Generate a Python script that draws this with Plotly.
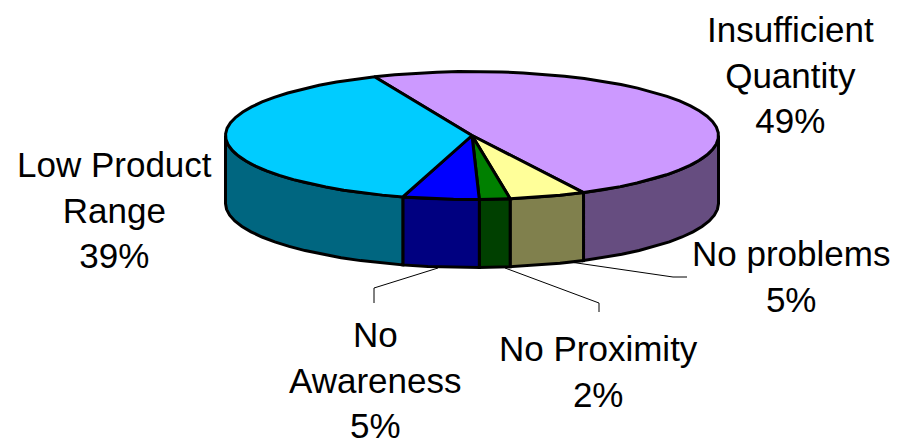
import numpy as np
import plotly.graph_objects as go

# Survey results, clockwise from the top of the pie
categories = ["Insufficient<br>Quantity", "No problems", "No Proximity", "No<br>Awareness", "Low Product<br>Range"]
values = [49, 5, 2, 5, 39]
top_colors = ["#CC99FF", "#FFFF99", "#008000", "#0000FF", "#00CCFF"]
side_colors = ["#664D80", "#80804D", "#004000", "#000080", "#006680"]

# Pixel geometry of the tilted disc
CX, CY = 472, 135.5
RX, RY = 246.5, 64
DEPTH = 68
START_DEG = 113.3
STEP_DEG = 5
OUTLINE = 3

# Centre of each label block, in the same order as the categories
label_pos = [(790, 74.5), (791, 276), (598, 371), (375, 380), (114.5, 209.5)]

# Leader lines running from the rim out to their labels
leaders = [
    [(570, 262), (673, 277), (687, 277)],
    [(505, 268), (599, 303), (599, 312)],
    [(438, 268), (374, 288), (374, 303)],
]


def arc(t0, t1):
    """Parametric angles from t0 to t1 (degrees), sampled coarsely with exact ends."""
    n = max(int(abs(t1 - t0) / STEP_DEG), 1)
    return np.radians(np.linspace(t0, t1, n + 1))


def rim(t, dy=0.0):
    return CX + RX * np.cos(t), CY - RY * np.sin(t) + dy


fig = go.Figure()


def polygon(xs, ys, color):
    fig.add_trace(go.Scatter(
        x=xs, y=ys, mode="lines", fill="toself", fillcolor=color,
        line=dict(color="black", width=OUTLINE), hoverinfo="skip", showlegend=False,
    ))


for path in leaders:
    fig.add_trace(go.Scatter(
        x=[p[0] for p in path], y=[p[1] for p in path], mode="lines",
        line=dict(color="black", width=1), hoverinfo="skip", showlegend=False,
    ))

# Slice spans, going clockwise from the start angle
spans = []
angle = START_DEG
for v in values:
    sweep = 360 * v / sum(values)
    spans.append((angle, angle - sweep))
    angle -= sweep

# Outer wall: only the part of each slice on the near half of the rim is visible
for (t0, t1), color in zip(spans, side_colors):
    lo, hi = max(t1, -180), min(t0, 0)
    if hi <= lo:
        continue
    t = arc(hi, lo)
    x, y = rim(t)
    xb, yb = rim(t[::-1], DEPTH)
    polygon(np.r_[x, xb, x[0]], np.r_[y, yb, y[0]], color)

# Top face
for (t0, t1), color in zip(spans, top_colors):
    x, y = rim(arc(t0, t1))
    polygon(np.r_[CX, x, CX], np.r_[CY, y, CY], color)

for name, v, (lx, ly) in zip(categories, values, label_pos):
    fig.add_annotation(
        x=lx, y=ly, xref="x", yref="y", text=f"{name}<br>{v}%", showarrow=False,
        xanchor="center", yanchor="middle", align="center",
        font=dict(family="Liberation Sans, Arial, sans-serif", size=35, color="black"),
    )

fig.update_layout(
    width=898, height=445, margin=dict(l=0, r=0, t=0, b=0),
    paper_bgcolor="white", plot_bgcolor="white", showlegend=False,
    xaxis=dict(range=[0, 898], visible=False, fixedrange=True),
    yaxis=dict(range=[445, 0], visible=False, fixedrange=True),
)

fig.write_html("out.html", config=dict(displayModeBar=False))
